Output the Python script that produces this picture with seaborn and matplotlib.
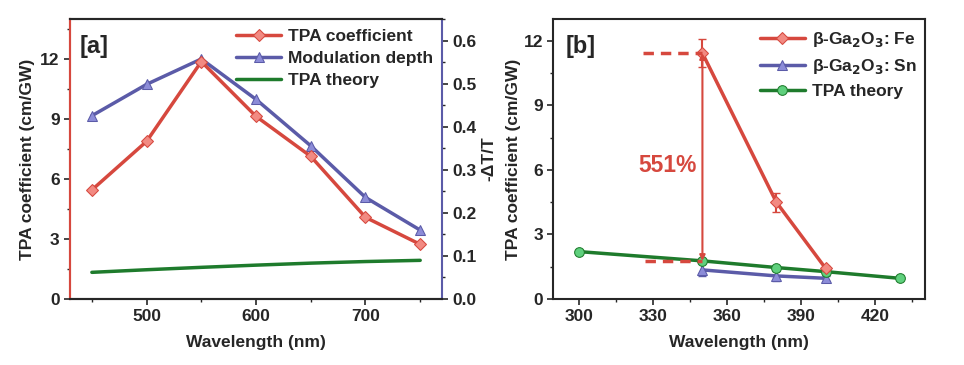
import numpy as np
import pandas as pd
import matplotlib
matplotlib.use("Agg")
import matplotlib.pyplot as plt
import seaborn as sns
from matplotlib.ticker import MultipleLocator

# ---- data panel a
wl_a = [450, 500, 550, 600, 650, 700, 750]
tpa_coef = [5.45, 7.88, 11.87, 9.13, 7.13, 4.08, 2.73]
mod_depth = [0.426, 0.499, 0.558, 0.464, 0.356, 0.236, 0.160]
tpa_theory_a = [1.33, 1.46, 1.58, 1.69, 1.79, 1.87, 1.93]

# ---- data panel b
wl_fe = [350, 380, 400]
fe = [11.43, 4.50, 1.42]
fe_err = [0.65, 0.45, 0.10]
wl_sn = [350, 380, 400]
sn = [1.35, 1.07, 0.96]
sn_err = [0.30, 0.22, 0.12]
wl_th = [300, 350, 380, 400, 430]
theory_b = [2.20, 1.77, 1.46, 1.27, 0.96]

RED = "#d6483e"
RED_F = "#f28a82"
BLUE = "#5b5ba8"
BLUE_F = "#8c8cd8"
GREEN = "#1e7b2c"
GREEN_F = "#5fd07d"

sns.set_theme(style="ticks")
plt.rcParams['font.family'] = ['Liberation Sans', 'DejaVu Sans']
plt.rcParams['font.weight'] = 'bold'
plt.rcParams['axes.labelweight'] = 'bold'
plt.rcParams['mathtext.default'] = 'bf'
plt.rcParams['axes.linewidth'] = 1.5

fig = plt.figure(figsize=(9.64, 3.65), dpi=100)
ax1 = fig.add_axes([0.0726, 0.181, 0.386, 0.767])
ax2 = fig.add_axes([0.574, 0.181, 0.386, 0.767])

# ================= panel a
df_a = pd.DataFrame({"wl": wl_a, "tpa": tpa_coef, "md": mod_depth, "th": tpa_theory_a})
sns.lineplot(data=df_a, x="wl", y="tpa", ax=ax1, color=RED, lw=2.5, marker="D",
             markersize=6, markerfacecolor=RED_F, markeredgecolor=RED, label="TPA coefficient",
             legend=False)
sns.lineplot(data=df_a, x="wl", y="th", ax=ax1, color=GREEN, lw=2.5, label="TPA theory",
             legend=False)
ax1r = ax1.twinx()
sns.lineplot(data=df_a, x="wl", y="md", ax=ax1r, color=BLUE, lw=2.5, marker="^",
             markersize=7, markerfacecolor=BLUE_F, markeredgecolor=BLUE, label="Modulation depth",
             legend=False)
ax1.set_zorder(ax1r.get_zorder() + 1)
ax1.patch.set_visible(False)

ax1.set_xlim(430, 770)
ax1.set_ylim(0, 14)
ax1r.set_ylim(0, 0.651)
ax1.xaxis.set_major_locator(MultipleLocator(100))
ax1.xaxis.set_minor_locator(MultipleLocator(50))
ax1.yaxis.set_major_locator(MultipleLocator(3))
ax1.yaxis.set_minor_locator(MultipleLocator(1.5))
ax1r.yaxis.set_major_locator(MultipleLocator(0.1))
ax1r.yaxis.set_minor_locator(MultipleLocator(0.05))
ax1.set_xlabel("Wavelength (nm)", fontsize=12.5, fontweight="bold", labelpad=8)
ax1.set_ylabel("TPA coefficient (cm/GW)", fontsize=12.5, fontweight="bold")
ax1r.set_ylabel("-ΔT/T", fontsize=12.5, fontweight="bold", labelpad=3)
for a in (ax1, ax1r):
    a.tick_params(labelsize=12.5, width=1.2, length=4, top=False)
    a.tick_params(which="minor", length=2.5, width=1)
ax1.spines["left"].set_color(RED)
ax1r.spines["left"].set_color(RED)
ax1r.spines["right"].set_color(BLUE)
ax1.spines["right"].set_visible(False)
ax1.text(0.027, 0.9, "[a]", transform=ax1.transAxes, fontsize=17, fontweight="bold",
         ha="left", va="center")

h1, l1 = ax1.get_legend_handles_labels()
h2, l2 = ax1r.get_legend_handles_labels()
handles = [h1[0], h2[0], h1[1]]
labels = [l1[0], l2[0], l1[1]]
ax1.legend(handles, labels, loc="upper right", frameon=False, fontsize=12.5,
           handlelength=2.6, borderaxespad=0.1, labelspacing=0.4, handletextpad=0.4,
           bbox_to_anchor=(1.0, 0.995))

# ================= panel b
df_fe = pd.DataFrame({"wl": wl_fe, "v": fe})
df_sn = pd.DataFrame({"wl": wl_sn, "v": sn})
df_th = pd.DataFrame({"wl": wl_th, "v": theory_b})

ax2.errorbar(wl_sn, sn, yerr=sn_err, fmt="none", ecolor=BLUE, elinewidth=1.5, capsize=3, zorder=3)
sns.lineplot(data=df_sn, x="wl", y="v", ax=ax2, color=BLUE, lw=2.5, marker="^", markersize=7,
             markerfacecolor=BLUE_F, markeredgecolor=BLUE, label=r"β-Ga$_2$O$_3$: Sn", legend=False,
             zorder=3)
sns.lineplot(data=df_th, x="wl", y="v", ax=ax2, color=GREEN, lw=2.5, marker="o", markersize=7,
             markerfacecolor=GREEN_F, markeredgecolor=GREEN, label="TPA theory", legend=False,
             zorder=4)
ax2.errorbar(wl_fe, fe, yerr=fe_err, fmt="none", ecolor=RED, elinewidth=1.5, capsize=3, zorder=5)
sns.lineplot(data=df_fe, x="wl", y="v", ax=ax2, color=RED, lw=2.5, marker="D", markersize=6,
             markerfacecolor=RED_F, markeredgecolor=RED, label=r"β-Ga$_2$O$_3$: Fe", legend=False,
             zorder=5)

# 551% annotation
ax2.plot([326, 350], [fe[0], fe[0]], color=RED, lw=2.5, ls=(0, (3, 2)), zorder=6)
ax2.plot([326.5, 350], [theory_b[1], theory_b[1]], color=RED, lw=2.5, ls=(0, (3, 2)), zorder=6)
ax2.annotate("", xy=(350, theory_b[1]), xytext=(350, fe[0]),
             arrowprops=dict(arrowstyle="<|-|>", color=RED, lw=1.5, mutation_scale=8,
                             shrinkA=0, shrinkB=0), zorder=6)
ax2.text(347.5, 6.2, "551%", color=RED, fontsize=16.5, fontweight="bold", ha="right", va="center")

ax2.set_xlim(289.5, 440.5)
ax2.set_ylim(0, 13.02)
ax2.xaxis.set_major_locator(MultipleLocator(30))
ax2.xaxis.set_minor_locator(MultipleLocator(15))
ax2.yaxis.set_major_locator(MultipleLocator(3))
ax2.yaxis.set_minor_locator(MultipleLocator(1.5))
ax2.tick_params(labelsize=12.5, width=1.2, length=4, right=False, top=False, which="both")
ax2.tick_params(which="minor", length=2.5, width=1)
ax2.set_xlabel("Wavelength (nm)", fontsize=12.5, fontweight="bold", labelpad=8)
ax2.set_ylabel("TPA coefficient (cm/GW)", fontsize=12.5, fontweight="bold", labelpad=2)
ax2.text(0.032, 0.9, "[b]", transform=ax2.transAxes, fontsize=17, fontweight="bold",
         ha="left", va="center")

hb, lb = ax2.get_legend_handles_labels()
order = [lb.index(r"β-Ga$_2$O$_3$: Fe"), lb.index(r"β-Ga$_2$O$_3$: Sn"), lb.index("TPA theory")]
ax2.legend([hb[i] for i in order], [lb[i] for i in order], loc="upper right", frameon=False,
           fontsize=12.5, handlelength=2.6, borderaxespad=0.1, labelspacing=0.45,
           handletextpad=0.4, bbox_to_anchor=(1.0, 0.99))

fig.savefig("out.png", dpi=100)
